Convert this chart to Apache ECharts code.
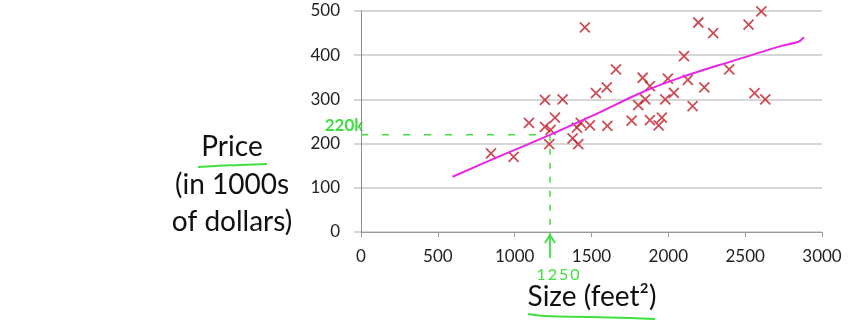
<!DOCTYPE html>
<html><head><meta charset="utf-8">
<script src="https://cdn.jsdelivr.net/npm/echarts@6/dist/echarts.min.js"></script>
<style>html,body{margin:0;padding:0;background:#fff}#c{width:856px;height:323px}</style>
</head><body><div id="c"></div>
<script>
// ---- data ----
const xTickMin = 0, xTickMax = 3000, xTickStep = 500;
const yTickMin = 0, yTickMax = 500, yTickStep = 100;
const sizes  = [846, 993, 1093, 1197, 1312, 1262, 1197, 1234, 1225, 1457, 1377, 1414, 1430, 1405,
                1490, 1529, 1599, 1603, 1659, 1761, 1804, 1850, 1833, 1880, 1880, 1937, 1958, 1980,
                1997, 2036, 2102, 2127, 2158, 2195, 2234, 2292, 2396, 2522, 2605, 2561, 2631];
const prices = [178, 170, 247, 299, 300, 259, 238, 231, 199, 463, 212, 199, 247, 236,
                241, 314, 327, 240, 368, 252, 287, 300, 349, 330, 253, 241, 259, 300,
                347, 315, 398, 344, 285, 474, 327, 450, 368, 469, 499, 314, 300];
const fitX = [596, 900, 1225, 1500, 1815, 2100, 2400, 2726, 2850, 2882];
const fitY = [125, 171, 219, 262, 314, 352, 385, 420, 431, 441];
const guideSize = 1230, guidePrice = 220;
const guideLabelX = '1250', guideLabelY = '220k';
const yTitleLines = ['Price', '(in 1000s', 'of dollars)'];
const xTitle = 'Size (feet\u00B2)';

const FONT = 'Lato, "Open Sans", sans-serif';
const GREEN = '#3ee03e';
const chart = echarts.init(document.getElementById('c'));
const scatterData = sizes.map((s, i) => [s, prices[i]]);
const fitData = fitX.map((s, i) => [s, fitY[i]]);

chart.setOption({
  animation: false,
  grid: { left: 361, right: 34, top: 11, bottom: 91, containLabel: false },
  xAxis: {
    type: 'value', min: xTickMin, max: xTickMax, interval: xTickStep,
    axisLine: { show: true, onZero: false, lineStyle: { color: '#9a9a9a', width: 1 } },
    axisTick: { show: true, length: 5, lineStyle: { color: '#9a9a9a' } },
    axisLabel: { fontSize: 17, color: '#222', margin: 16, fontFamily: FONT, formatter: v => String(v) },
    splitLine: { show: false }
  },
  yAxis: {
    type: 'value', min: yTickMin, max: yTickMax, interval: yTickStep,
    axisLine: { show: true, lineStyle: { color: '#8a8a8a', width: 1 } },
    axisTick: { show: true, length: 7, lineStyle: { color: '#c8c8c8', width: 1.5 } },
    axisLabel: { fontSize: 17, color: '#222', margin: 21, fontFamily: FONT, formatter: v => String(v) },
    splitLine: { show: true, lineStyle: { color: '#c8c8c8', width: 1.5 } }
  },
  series: [
    {
      type: 'line', data: [[0, guidePrice], [guideSize, guidePrice]], showSymbol: false,
      lineStyle: { color: GREEN, width: 1.5, type: [7, 14] }, z: 1, silent: true
    },
    {
      type: 'line', data: [[guideSize, guidePrice], [guideSize, -20]], showSymbol: false, clip: false,
      lineStyle: { color: GREEN, width: 1.5, type: [6, 8] }, z: 1, silent: true
    },
    {
      type: 'scatter', data: scatterData, symbol: 'path://M0,0L10,10M10,0L0,10', symbolSize: 10,
      itemStyle: { color: 'rgba(0,0,0,0)', borderColor: '#c0202a', borderWidth: 1.8 }, z: 3
    },
    {
      type: 'line', data: fitData, smooth: 0.3, showSymbol: false,
      lineStyle: { color: '#e825e8', width: 2 }, z: 4
    }
  ]
});

const pAxisY = chart.convertToPixel({ gridIndex: 0 }, [0, guidePrice]);
const pAxisX = chart.convertToPixel({ gridIndex: 0 }, [guideSize, 0]);
const graphics = [];
const lineYs = [147, 185, 222];
yTitleLines.forEach((t, i) => graphics.push({
  type: 'text', x: 232, y: lineYs[i],
  style: { text: t, font: '28px ' + FONT, fill: '#111', textAlign: 'center', textVerticalAlign: 'middle' }
}));
graphics.push({
  type: 'text', x: 592, y: 297,
  style: { text: xTitle, font: '28px ' + FONT, fill: '#111', textAlign: 'center', textVerticalAlign: 'middle' }
});
// hand-drawn underlines
graphics.push({ type: 'polyline', shape: { points: [[198, 167], [215, 166], [240, 165], [267, 164]], smooth: 0.5 },
  style: { stroke: GREEN, lineWidth: 2, fill: null } });
graphics.push({ type: 'polyline', shape: { points: [[528, 314], [545, 316], [590, 317], [630, 318], [655, 319]], smooth: 0.5 },
  style: { stroke: GREEN, lineWidth: 2, fill: null } });
// arrow under the axis
const ax = pAxisX[0];
graphics.push({ type: 'polyline', shape: { points: [[ax, 258], [ax, 236]] }, style: { stroke: GREEN, lineWidth: 1.8, fill: null } });
graphics.push({ type: 'polyline', shape: { points: [[ax - 5, 243], [ax, 235], [ax + 5, 243]] }, style: { stroke: GREEN, lineWidth: 1.8, fill: null } });
graphics.push({
  type: 'text', x: ax + 8, y: 275,
  style: { text: guideLabelX.split('').join('\u2009'), font: '16px ' + FONT, fill: GREEN, textAlign: 'center', textVerticalAlign: 'middle' }
});
graphics.push({
  type: 'text', x: pAxisY[0] - 17, y: pAxisY[1] - 9,
  style: { text: guideLabelY, font: 'bold 17px ' + FONT, fill: GREEN, textAlign: 'center', textVerticalAlign: 'middle' }
});
chart.setOption({ graphic: graphics });
</script>
</body></html>
